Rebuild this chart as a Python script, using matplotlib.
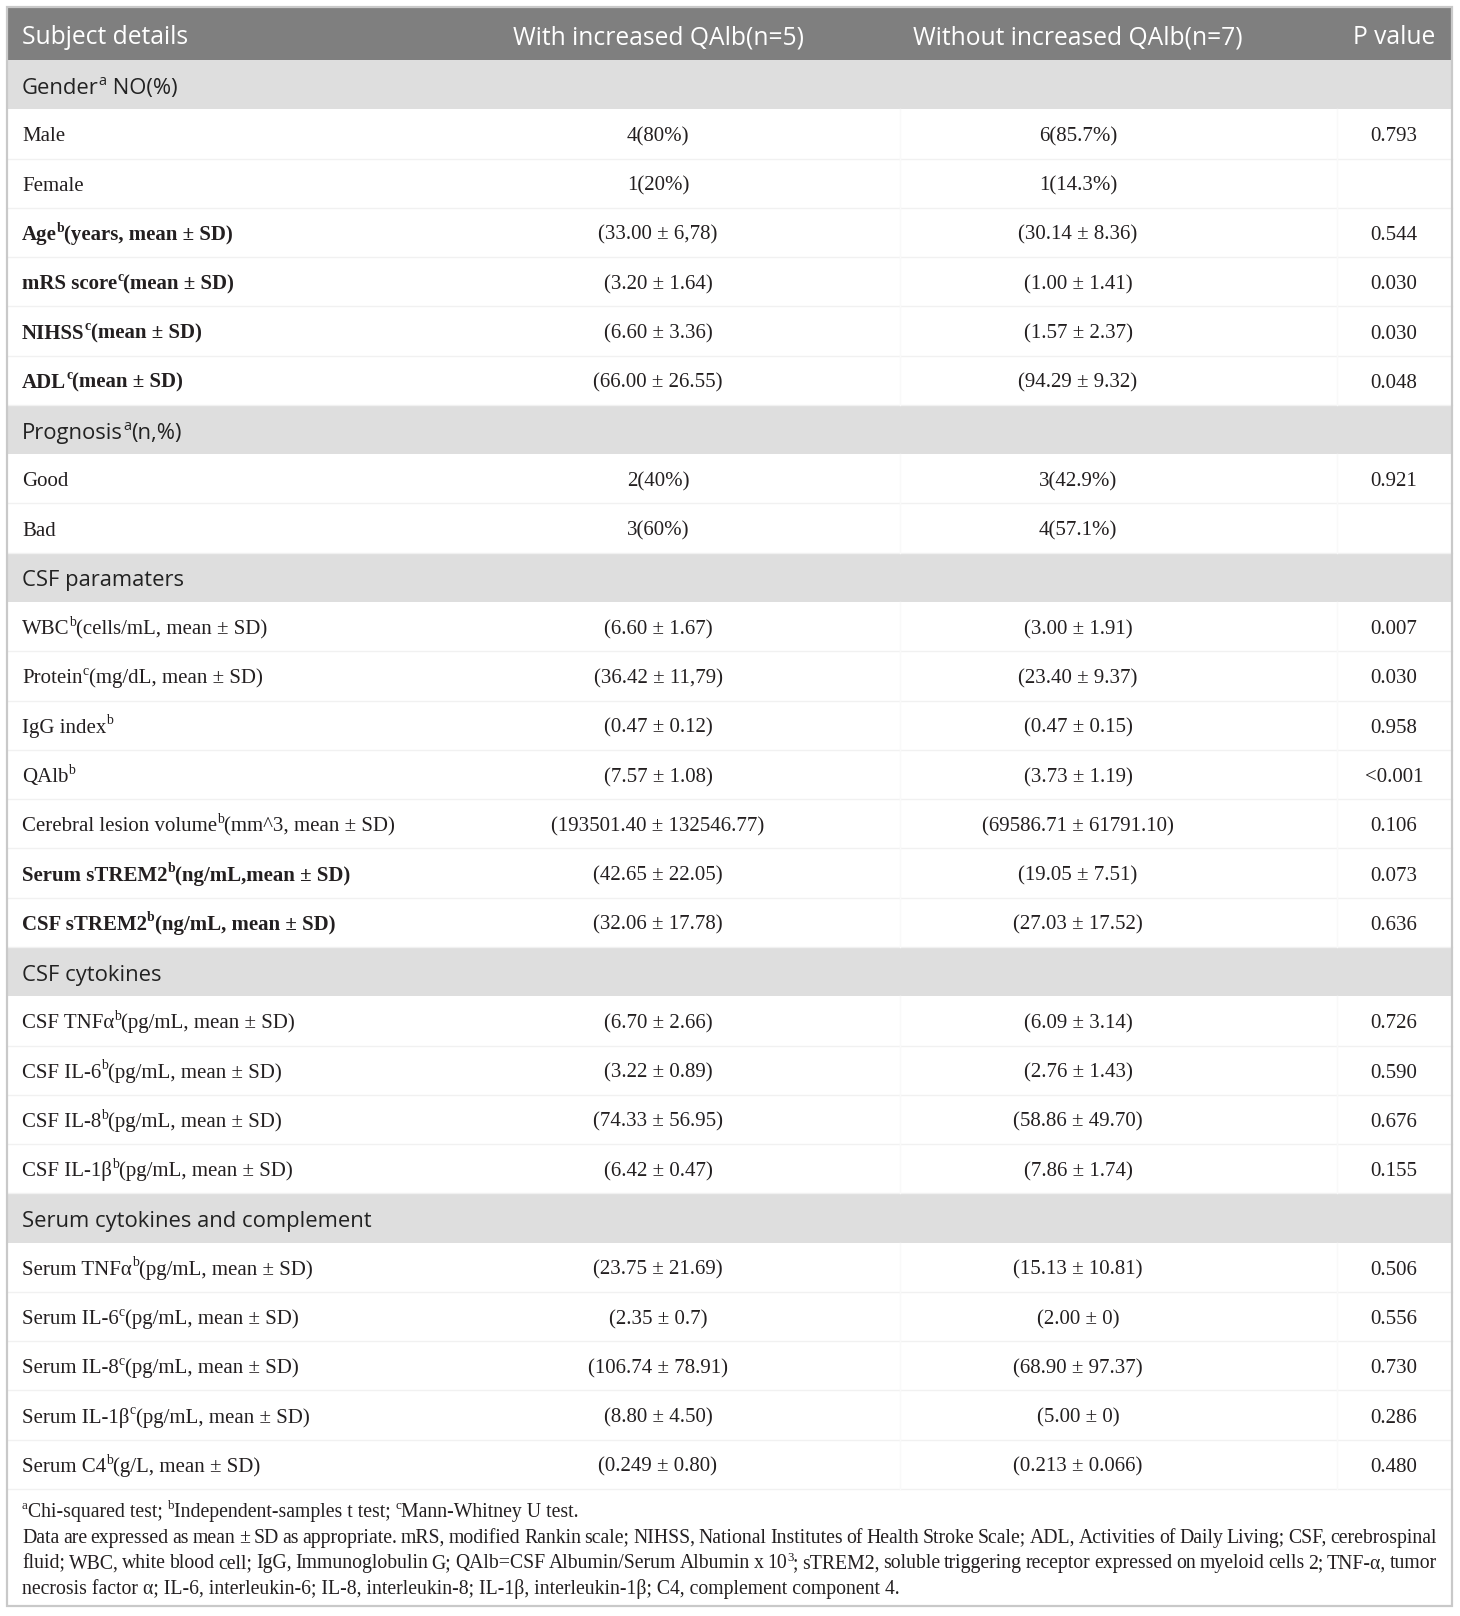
import re
import matplotlib
matplotlib.use('Agg')
import matplotlib.pyplot as plt
from matplotlib.patches import Rectangle

# ---- table content ----
header = ["Subject details", "With increased QAlb(n=5)",
          "Without increased QAlb(n=7)", "P value"]

row_labels = [
    "Gender^{a} NO(%)",
    "Male",
    "Female",
    "Age^{b}(years, mean ± SD)",
    "mRS score^{c}(mean ± SD)",
    "NIHSS^{c}(mean ± SD)",
    "ADL^{c}(mean ± SD)",
    "Prognosis^{a}(n,%)",
    "Good",
    "Bad",
    "CSF paramaters",
    "WBC^{b}(cells/mL, mean ± SD)",
    "Protein^{c}(mg/dL, mean ± SD)",
    "IgG index^{b}",
    "QAlb^{b}",
    "Cerebral lesion volume^{b}(mm^3, mean ± SD)",
    "Serum sTREM2^{b}(ng/mL,mean ± SD)",
    "CSF sTREM2^{b}(ng/mL, mean ± SD)",
    "CSF cytokines",
    "CSF TNFα^{b}(pg/mL, mean ± SD)",
    "CSF IL-6^{b}(pg/mL, mean ± SD)",
    "CSF IL-8^{b}(pg/mL, mean ± SD)",
    "CSF IL-1β^{b}(pg/mL, mean ± SD)",
    "Serum cytokines and complement",
    "Serum TNFα^{b}(pg/mL, mean ± SD)",
    "Serum IL-6^{c}(pg/mL, mean ± SD)",
    "Serum IL-8^{c}(pg/mL, mean ± SD)",
    "Serum IL-1β^{c}(pg/mL, mean ± SD)",
    "Serum C4^{b}(g/L, mean ± SD)",
]

# s = section row, b = bold label, n = normal
row_kind = ["s", "n", "n", "b", "b", "b", "b",
            "s", "n", "n",
            "s", "n", "n", "n", "n", "n", "b", "b",
            "s", "n", "n", "n", "n",
            "s", "n", "n", "n", "n", "n"]

with_qalb = ["", "4(80%)", "1(20%)", "(33.00 ± 6,78)", "(3.20 ± 1.64)",
             "(6.60 ± 3.36)", "(66.00 ± 26.55)",
             "", "2(40%)", "3(60%)",
             "", "(6.60 ± 1.67)", "(36.42 ± 11,79)", "(0.47 ± 0.12)",
             "(7.57 ± 1.08)", "(193501.40 ± 132546.77)", "(42.65 ± 22.05)",
             "(32.06 ± 17.78)",
             "", "(6.70 ± 2.66)", "(3.22 ± 0.89)", "(74.33 ± 56.95)",
             "(6.42 ± 0.47)",
             "", "(23.75 ± 21.69)", "(2.35 ± 0.7)", "(106.74 ± 78.91)",
             "(8.80 ± 4.50)", "(0.249 ± 0.80)"]

without_qalb = ["", "6(85.7%)", "1(14.3%)", "(30.14 ± 8.36)", "(1.00 ± 1.41)",
                "(1.57 ± 2.37)", "(94.29 ± 9.32)",
                "", "3(42.9%)", "4(57.1%)",
                "", "(3.00 ± 1.91)", "(23.40 ± 9.37)", "(0.47 ± 0.15)",
                "(3.73 ± 1.19)", "(69586.71 ± 61791.10)", "(19.05 ± 7.51)",
                "(27.03 ± 17.52)",
                "", "(6.09 ± 3.14)", "(2.76 ± 1.43)", "(58.86 ± 49.70)",
                "(7.86 ± 1.74)",
                "", "(15.13 ± 10.81)", "(2.00 ± 0)", "(68.90 ± 97.37)",
                "(5.00 ± 0)", "(0.213 ± 0.066)"]

p_values = ["", "0.793", "", "0.544", "0.030", "0.030", "0.048",
            "", "0.921", "",
            "", "0.007", "0.030", "0.958", "<0.001", "0.106", "0.073", "0.636",
            "", "0.726", "0.590", "0.676", "0.155",
            "", "0.506", "0.556", "0.730", "0.286", "0.480"]

footnote_lines = [
    "^{a}Chi-squared test; ^{b}Independent-samples t test; ^{c}Mann-Whitney U test.",
    "Data are expressed as mean ± SD as appropriate. mRS, modified Rankin scale; NIHSS, "
    "National Institutes of Health Stroke Scale; ADL, Activities of Daily Living; CSF, cerebrospinal",
    "fluid; WBC, white blood cell; IgG, Immunoglobulin G; QAlb=CSF Albumin/Serum Albumin x 10^{3}; "
    "sTREM2, soluble triggering receptor expressed on myeloid cells 2; TNF-α, tumor",
    "necrosis factor α; IL-6, interleukin-6; IL-8, interleukin-8; IL-1β, interleukin-1β; "
    "C4, complement component 4.",
]
footnote_justify = [False, True, True, False]

# ---- layout / style ----
W, H = 1460, 1616
LEFT, RIGHT = 7, 1452
TOP, HEAD_BOT = 7, 60
TABLE_BOT = 1489
BOX_BOT = 1606
ROW_H = (TABLE_BOT - HEAD_BOT) / len(row_labels)
TEXT_X = 22
NOTE_RIGHT = 1437
COL_X = [658, 1078, 1394]

SERIF = "Liberation Serif"
SANS = "Open Sans"
TXT = "#231f20"
HEAD_BG = "#7f7f7f"
SEC_BG = "#dedede"
BODY_SIZE = 15
SEC_SIZE = 15.8
HEAD_SIZE = 17.7
NOTE_SIZE = 14.2
PX_PER_PT = 100 / 72

fig = plt.figure(figsize=(W / 100, H / 100), dpi=100)
ax = fig.add_axes([0, 0, 1, 1])
ax.set_xlim(0, W)
ax.set_ylim(H, 0)
ax.axis("off")
renderer = fig.canvas.get_renderer()


def split_runs(s):
    """'Age^{b}(years)' -> [('Age', False), ('b', True), ('(years)', False)]"""
    parts = re.split(r"\^\{(.*?)\}", s)
    runs = []
    for i, p in enumerate(parts):
        if p:
            runs.append((p, i % 2 == 1))
    return runs


def put_runs(x, y, runs, size, family, weight="normal", color=TXT, draw=True):
    for txt, sup in runs:
        if sup:
            t = ax.text(x, y - size * 0.40 * PX_PER_PT, txt, fontsize=size * 0.66,
                        family=family, weight=weight, color=color,
                        ha="left", va="baseline")
        else:
            t = ax.text(x, y, txt, fontsize=size, family=family, weight=weight,
                        color=color, ha="left", va="baseline")
        x += t.get_window_extent(renderer).width
        if not draw:
            t.remove()
    return x


# backgrounds
ax.add_patch(Rectangle((LEFT, TOP), RIGHT - LEFT, HEAD_BOT - TOP,
                       facecolor=HEAD_BG, edgecolor="none", zorder=0))
for i, kind in enumerate(row_kind):
    y0 = HEAD_BOT + i * ROW_H
    if kind == "s":
        ax.add_patch(Rectangle((LEFT, y0), RIGHT - LEFT, ROW_H,
                               facecolor=SEC_BG, edgecolor="none", zorder=0))
    else:
        ax.plot([LEFT, RIGHT], [y0 + ROW_H, y0 + ROW_H], color="#f1f1f1",
                lw=1, zorder=1)
        for cx in (900, 1337):
            ax.plot([cx, cx], [y0, y0 + ROW_H], color="#f9f9f9", lw=1, zorder=1)

# outer frame
ax.add_patch(Rectangle((LEFT, TOP), RIGHT - LEFT, BOX_BOT - TOP,
                       facecolor="none", edgecolor="#c9c9c9", lw=1.6, zorder=3))

# header
hy = TOP + (HEAD_BOT - TOP) / 2 + 11
ax.text(TEXT_X, hy, header[0], fontsize=HEAD_SIZE, family=SANS, color="white",
        ha="left", va="baseline")
for cx, h in zip(COL_X, header[1:]):
    ax.text(cx, hy, h, fontsize=HEAD_SIZE, family=SANS, color="white",
            ha="center", va="baseline")

# body
for i, lab in enumerate(row_labels):
    kind = row_kind[i]
    yc = HEAD_BOT + i * ROW_H + ROW_H / 2
    if kind == "s":
        put_runs(TEXT_X, yc + 9, split_runs(lab), SEC_SIZE, SANS, color="#222222")
        continue
    weight = "bold" if kind == "b" else "normal"
    put_runs(TEXT_X, yc + 7.5, split_runs(lab), BODY_SIZE, SERIF, weight=weight)
    for cx, val in zip(COL_X, (with_qalb[i], without_qalb[i], p_values[i])):
        if val:
            ax.text(cx, yc + 7.5, val, fontsize=BODY_SIZE, family=SERIF, color=TXT,
                    ha="center", va="baseline")

# footnotes (lines 2-3 are justified to the full width)
note_y0 = 1517
note_dy = 25.7
for k, line in enumerate(footnote_lines):
    y = note_y0 + k * note_dy
    if not footnote_justify[k]:
        put_runs(TEXT_X, y, split_runs(line), NOTE_SIZE, SERIF)
        continue
    words = line.split(" ")
    widths = [put_runs(0, y, split_runs(w), NOTE_SIZE, SERIF, draw=False)
              for w in words]
    gap = (NOTE_RIGHT - TEXT_X - sum(widths)) / (len(words) - 1)
    x = TEXT_X
    for w, wd in zip(words, widths):
        put_runs(x, y, split_runs(w), NOTE_SIZE, SERIF)
        x += wd + gap

fig.savefig("out.png", dpi=100)
